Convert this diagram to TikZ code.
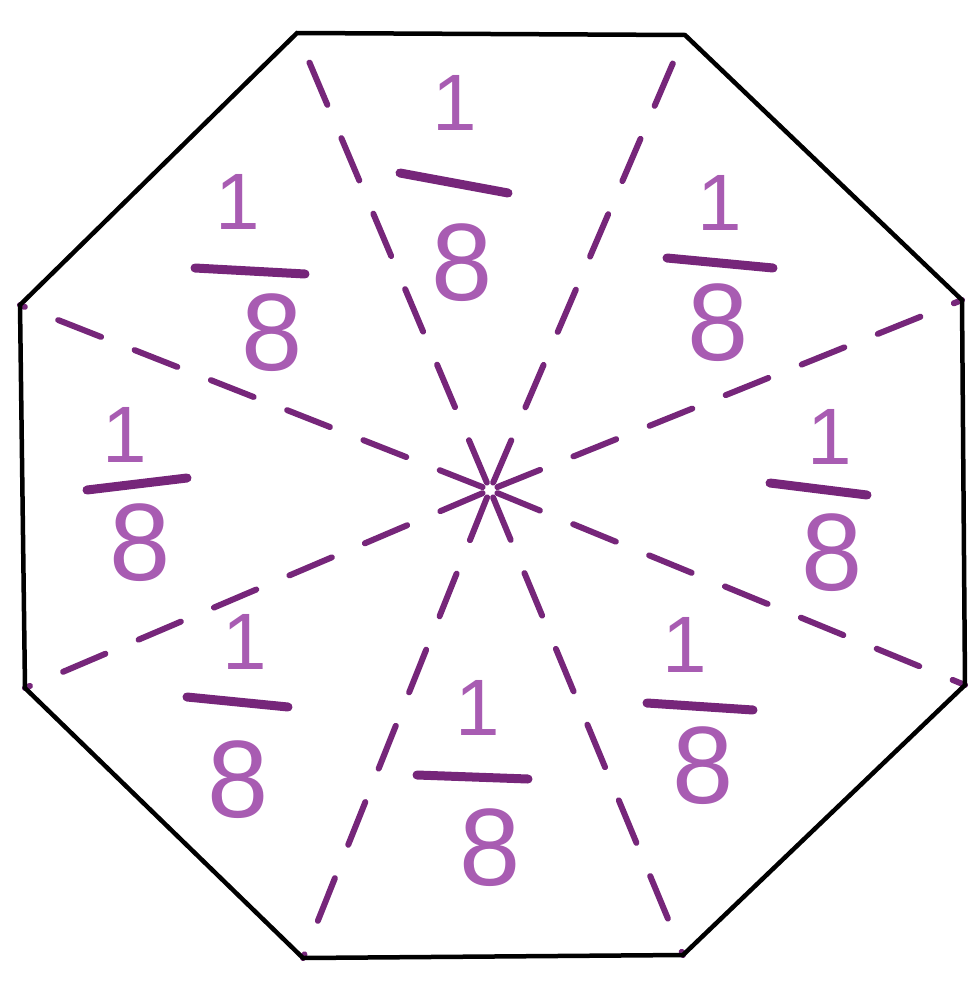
\documentclass[tikz,border=0pt]{standalone}
\usepackage{fontspec}
\setmainfont{Liberation Sans}
\definecolor{pen}{RGB}{118,38,122}
\definecolor{ink}{RGB}{168,92,178}
\begin{document}
\begin{tikzpicture}[x=1pt,y=-1pt,
  edge/.style={line width=4.5pt, black, line join=miter},
  ray/.style={pen, line width=6pt, dash pattern=on 46pt off 36pt, line cap=round, shorten <=8pt},
  numer/.style={ink, font=\fontsize{80}{80}\selectfont, inner sep=0pt},
  denom/.style={ink, font=\fontsize{110}{110}\selectfont, inner sep=0pt},
  fbar/.style={pen, line width=9pt, line cap=round}]
\useasboundingbox (0,0) rectangle (980,991);
% vertices
\coordinate (v1) at (297,33);
\coordinate (v2) at (685,35);
\coordinate (v3) at (962,300);
\coordinate (v4) at (965,685);
\coordinate (v5) at (683,955);
\coordinate (v6) at (303,958);
\coordinate (v7) at (25,688);
\coordinate (v8) at (20,305);
\coordinate (c) at (490,490);
% dashed rays
\foreach \v in {v1,v2,v3,v4,v5,v6,v7,v8}
  \draw[ray] (c) -- (\v);
% octagon
\draw[edge] (v1) -- (v2) -- (v3) -- (v4) -- (v5) -- (v6) -- (v7) -- (v8) -- cycle;
% fractions
\node[numer] (n1) at (455,103) {1};
\draw[fbar] (400,173) -- (508,193);
\node[denom] (d1) at (462,263) {8};

\node[numer] (n2) at (720,203) {1};
\draw[fbar] (667,258) -- (773,268);
\node[denom] (d2) at (718,323) {8};

\node[numer] (n3) at (830,437) {1};
\draw[fbar] (770,483) -- (867,495);
\node[denom] (d3) at (832,553) {8};

\node[numer] (n4) at (685,645) {1};
\draw[fbar] (647,703) -- (753,710);
\node[denom] (d4) at (703,766) {8};

\node[numer] (n5) at (478,708) {1};
\draw[fbar] (417,775) -- (528,779);
\node[denom] (d5) at (490,848) {8};

\node[numer] (n6) at (245,642) {1};
\draw[fbar] (187,697) -- (288,707);
\node[denom] (d6) at (238,780) {8};

\node[numer] (n7) at (125,435) {1};
\draw[fbar] (87,490) -- (187,478);
\node[denom] (d7) at (140,543) {8};

\node[numer] (n8) at (238,202) {1};
\draw[fbar] (195,268) -- (305,274);
\node[denom] (d8) at (272,333) {8};
\end{tikzpicture}
\end{document}
